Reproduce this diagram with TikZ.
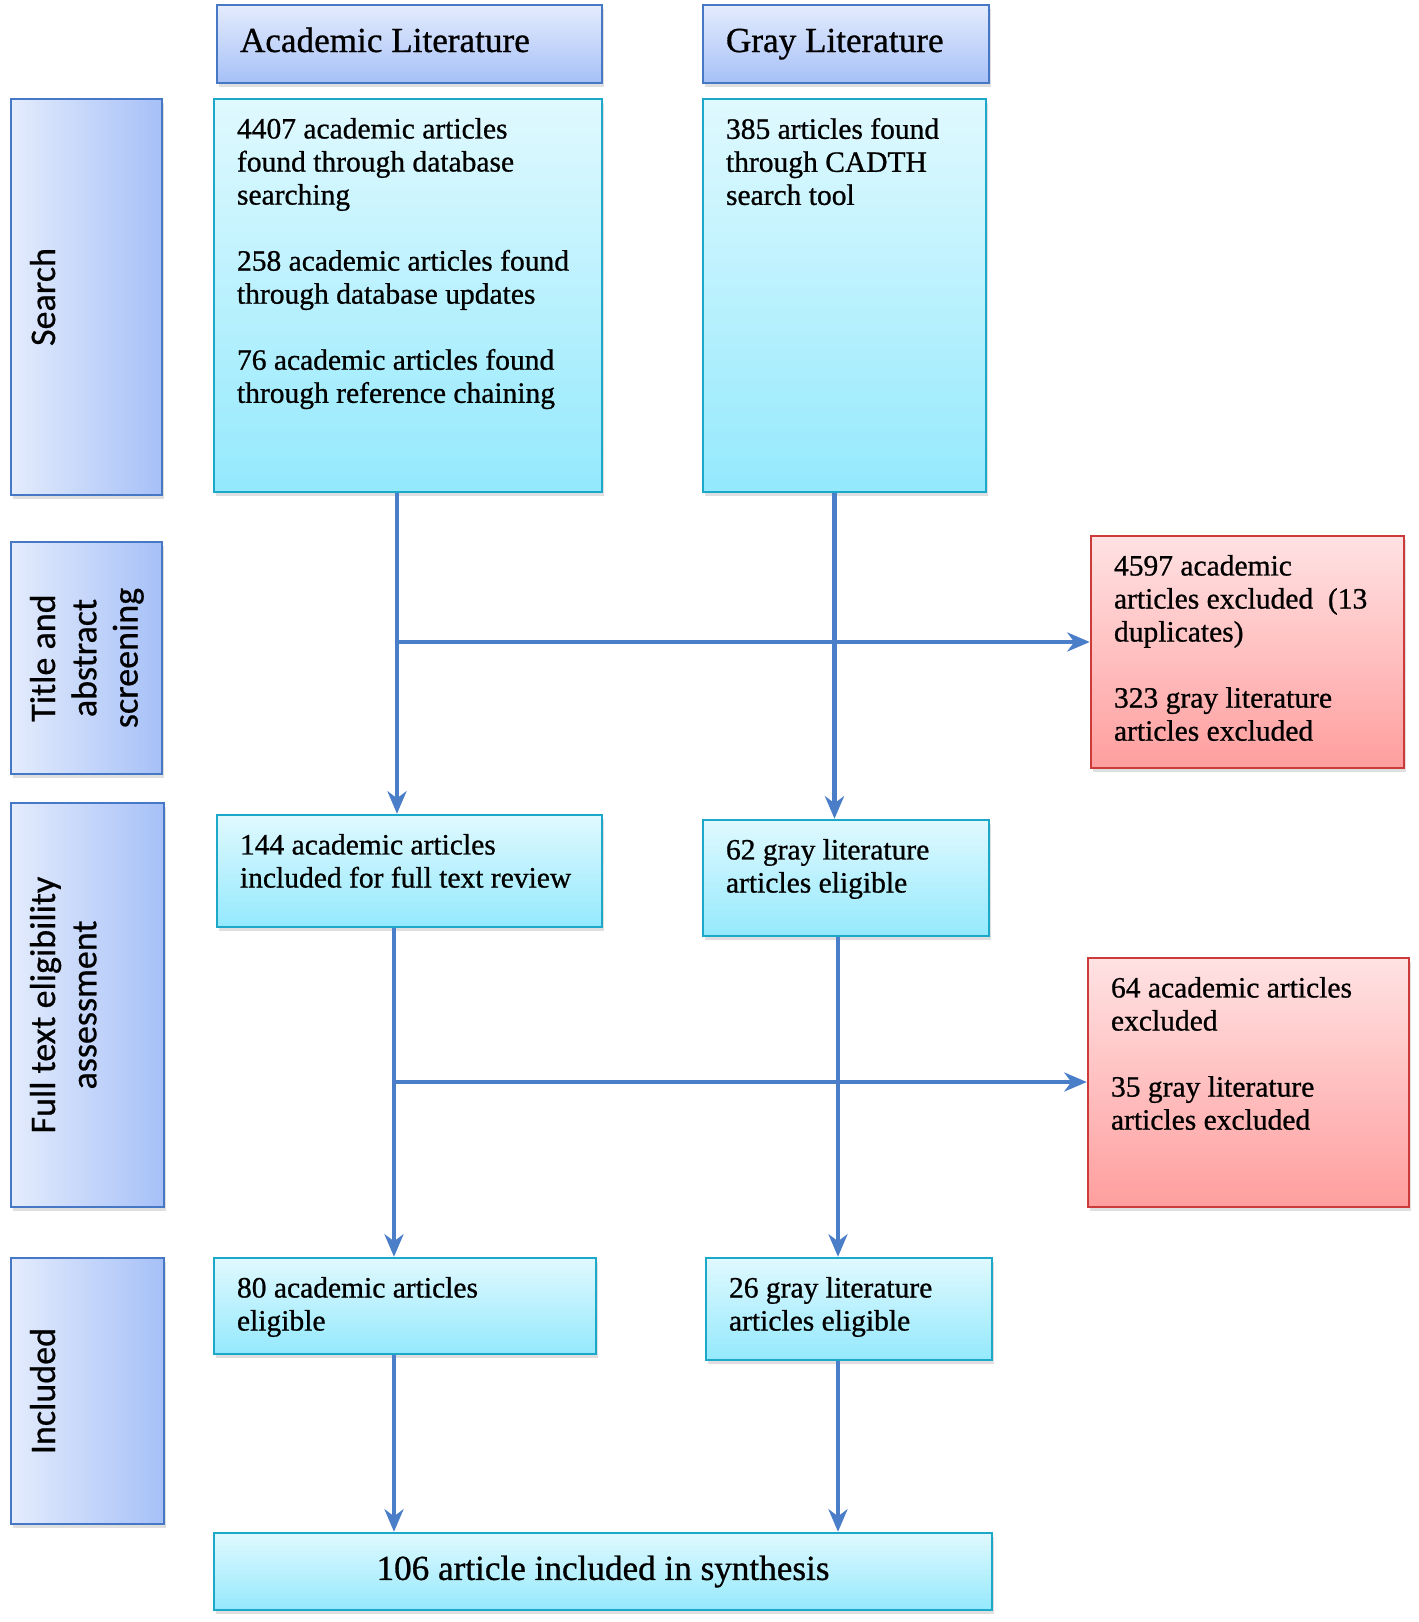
\documentclass[tikz,border=0pt]{standalone}
\usepackage{fontspec}
\setmainfont[FakeBold=0.8]{Liberation Serif}
\newfontfamily\sidefont[FakeBold=0.6]{Carlito}
\usepackage{xcolor}
\usepackage{tikz}
\usetikzlibrary{
  arrows.meta,
  positioning,
  shadows,
  calc
}
\definecolor{arrblue}{RGB}{74,126,200}
\definecolor{headlight}{RGB}{228,236,253}
\definecolor{headdark}{RGB}{166,192,247}
\definecolor{headline}{RGB}{70,120,198}
\definecolor{cyanlight}{RGB}{224,249,254}
\definecolor{cyandark}{RGB}{148,233,253}
\definecolor{cyanline}{RGB}{28,168,200}
\definecolor{redlight}{RGB}{255,226,227}
\definecolor{reddark}{RGB}{255,158,158}
\definecolor{redline}{RGB}{205,58,58}
\newcommand{\boxfont}{\fontsize{16.8pt}{18.8pt}\selectfont}
\newcommand{\headfont}{\fontsize{20pt}{24pt}\selectfont}
\newcommand{\labelfont}{\sidefont\fontsize{20.5pt}{23.5pt}\selectfont}
\newcommand{\toptext}[3]{\parbox[t][#2][t]{#1}{\raggedright #3}}
\newcommand{\sidetext}[3]{\parbox[t][#2][t]{#1}{\centering #3}}

\begin{document}
\begin{tikzpicture}[
  shadowed/.style={drop shadow={opacity=0.25,shadow xshift=0.04cm,shadow yshift=-0.07cm}},
  head/.style ={draw=headline,line width=1.4pt,top color=headlight,bottom color=headdark,
                shadowed,inner xsep=0.46cm,font=\headfont,minimum height=1.56cm,
                text height=0.52cm,text depth=0.2cm},
  side/.style ={draw=headline,line width=1.4pt,left color=headlight,right color=headdark,
                shadowed,rotate=90,inner xsep=0.1cm,inner ysep=0.38cm,font=\labelfont},
  found/.style={draw=cyanline,line width=1.4pt,top color=cyanlight,bottom color=cyandark,
                shadowed,inner xsep=0.46cm,inner ysep=0.38cm,font=\boxfont},
  excl/.style ={draw=redline,line width=1.4pt,top color=redlight,bottom color=reddark,
                shadowed,inner xsep=0.46cm,inner ysep=0.38cm,font=\boxfont},
  arr/.style  ={-{Stealth[length=0.45cm,width=0.38cm,inset=0.14cm]},draw=arrblue,line width=2.6pt},
]
\useasboundingbox (0,0) rectangle (28.36,-32.44);

% column headers
\node[head] (hAcad) at (8.19,-0.88) {\makebox[6.78cm][l]{Academic Literature}};
\node[head] (hGray) at (16.92,-0.88) {\makebox[4.80cm][l]{Gray Literature}};

% stage labels
\node[side] (lSearch) at (1.73,-5.94)  {\sidetext{7.72cm}{2.26cm}{Search}};
\node[side] (lScreen) at (1.73,-13.16) {\sidetext{4.44cm}{2.26cm}{Title and\\abstract\\screening}};
\node[side] (lFull)   at (1.75,-20.10) {\sidetext{7.88cm}{2.30cm}{Full text eligibility\\assessment}};
\node[side] (lIncl)   at (1.75,-27.82) {\sidetext{5.12cm}{2.30cm}{Included}};

% search
\node[found] (acad) at (8.16,-5.91) {\toptext{6.84cm}{7.10cm}{4407 academic articles\\
  found through database\\searching\\[\baselineskip]
  258 academic articles found\\through database updates\\[\baselineskip]
  76 academic articles found\\through reference chaining}};
\node[found] (gray) at (16.89,-5.91) {\toptext{4.74cm}{7.10cm}{385 articles found\\
  through CADTH\\search tool}};

% screening
\node[excl] (excl1) at (24.95,-13.04) {\toptext{5.34cm}{3.88cm}{4597 academic\\
  articles excluded\ \ (13\\duplicates)\\[\baselineskip]
  323 gray literature\\articles excluded}};

% full text
\node[found] (acadFull) at (8.19,-17.42) {\toptext{6.78cm}{1.48cm}{144 academic articles\\
  included for full text review}};
\node[found] (grayFull) at (16.92,-17.56) {\toptext{4.80cm}{1.56cm}{62 gray literature\\
  articles eligible}};
\node[excl] (excl2) at (24.97,-21.65) {\toptext{5.50cm}{4.22cm}{64 academic articles\\
  excluded\\[\baselineskip]
  35 gray literature\\articles excluded}};

% included
\node[found] (acadIncl) at (8.10,-26.12) {\toptext{6.72cm}{1.16cm}{80 academic articles\\eligible}};
\node[found] (grayIncl) at (16.98,-26.18) {\toptext{4.80cm}{1.28cm}{26 gray literature\\articles eligible}};
\node[found,minimum width=15.56cm,minimum height=1.54cm,font=\headfont] (synth) at (12.06,-31.43)
  {106 article included in synthesis};

% trunks
\coordinate (tA1) at (7.94,0);
\coordinate (tG1) at (16.69,0);
\coordinate (tA2) at (7.88,0);
\coordinate (tG2) at (16.76,0);
\coordinate (jA1) at (7.94,-12.84);
\coordinate (jA2) at (7.88,-21.64);

\draw[arr] (acad.south -| tA1) -- (acadFull.north -| tA1);
\draw[arr] (gray.south -| tG1) -- (grayFull.north -| tG1);
\draw[arr] (jA1) -- (jA1 -| excl1.west);
\draw[arr] (acadFull.south -| tA2) -- (acadIncl.north -| tA2);
\draw[arr] (grayFull.south -| tG2) -- (grayIncl.north -| tG2);
\draw[arr] (jA2) -- (jA2 -| excl2.west);
\draw[arr] (acadIncl.south -| tA2) -- (synth.north -| tA2);
\draw[arr] (grayIncl.south -| tG2) -- (synth.north -| tG2);
\end{tikzpicture}
\end{document}
